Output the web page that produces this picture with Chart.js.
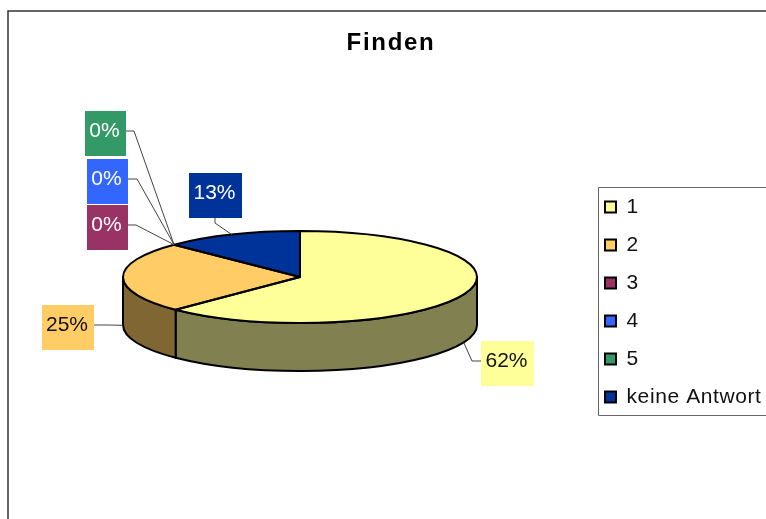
<!DOCTYPE html>
<html>
<head>
<meta charset="utf-8">
<style>html,body{margin:0;padding:0;background:#fff;overflow:hidden}canvas{display:block}</style>
<script src="https://cdn.jsdelivr.net/npm/chart.js@4"></script>
</head>
<body>
<canvas id="c" width="766" height="519"></canvas>
<script>
const titleText = 'Finden';
const categories = ['1', '2', '3', '4', '5', 'keine Antwort'];
const values = [62.4, 25, 0, 0, 0, 12.6];
const colors = ['#FFFF99', '#FFCC66', '#993366', '#3366FF', '#339966', '#003399'];
const sideColors = ['#808050', '#806633', '#4D1A33', '#1A3380', '#1A4D33', '#001A4D'];
const labelTextColors = ['#111', '#111', '#fff', '#fff', '#fff', '#fff'];
const fontFamily = "'Liberation Sans', Arial, sans-serif";

// label box layout: x, y, w, h, then elbow points of the leader from the box to the slice
const labelBoxes = [
  {x: 481, y: 341, w: 53, h: 45, from: [481, 361], elbow: [472, 361]},
  {x: 42, y: 305, w: 52, h: 45, from: [94, 325], elbow: [108, 325]},
  {x: 87, y: 205, w: 41, h: 45, from: [128, 225], elbow: [136, 225]},
  {x: 87, y: 159, w: 41, h: 45, from: [128, 179], elbow: [137, 179]},
  {x: 85, y: 111, w: 41, h: 45, from: [126, 131], elbow: [134, 131]},
  {x: 189, y: 173, w: 53, h: 45, from: [215, 218], elbow: [215, 223]}
];
const squash = 46 / 177;
const depth = 48;

function eachArc(chart, fn) {
  chart.getDatasetMeta(0).data.forEach((arc, i) => fn(arc, i));
}

const pie3d = {
  id: 'pie3d',
  beforeDraw(chart) {
    const ctx = chart.ctx;
    ctx.save();
    ctx.fillStyle = '#fff';
    ctx.fillRect(0, 0, chart.width, chart.height);
    ctx.strokeStyle = '#333';
    ctx.lineWidth = 1.5;
    ctx.beginPath();
    ctx.moveTo(8, 519);
    ctx.lineTo(8, 11);
    ctx.lineTo(766, 11);
    ctx.stroke();
    ctx.strokeStyle = '#666';
    ctx.lineWidth = 1;
    ctx.beginPath();
    ctx.moveTo(766, 187.5);
    ctx.lineTo(598.5, 187.5);
    ctx.lineTo(598.5, 415.5);
    ctx.lineTo(766, 415.5);
    ctx.stroke();
    ctx.restore();
  },
  afterLayout(chart) {
    const t = chart.titleBlock;
    t.left = 8; t.right = 774; t.top = 28.6; t.bottom = 57.4;
    if (!t._wrapped) {
      const d = t.draw.bind(t);
      t.draw = () => { chart.ctx.letterSpacing = '1.7px'; d(); chart.ctx.letterSpacing = '0px'; };
      t._wrapped = true;
    }
    const l = chart.legend;
    l.left = 588; l.right = 766; l.top = 179.5; l.bottom = 519;
    if (!l._wrapped) {
      const d = l.draw.bind(l);
      l.draw = () => { chart.ctx.letterSpacing = '0.6px'; d(); chart.ctx.letterSpacing = '0px'; };
      l._wrapped = true;
    }
  },
  beforeDatasetsDraw(chart) {
    const ctx = chart.ctx;
    const TAU = Math.PI * 2;
    ctx.save();
    ctx.strokeStyle = '#000';
    ctx.lineWidth = 2;
    ctx.lineJoin = 'round';
    eachArc(chart, (arc, i) => {
      let a = arc.startAngle, b = arc.endAngle;
      if (b - a <= 0) return;
      if (a < 0 && b <= 0) { a += TAU; b += TAU; }
      const a0 = Math.max(a, 0), a1 = Math.min(b, Math.PI);
      if (a1 <= a0) return;
      const rx = arc.outerRadius, ry = rx * squash;
      ctx.beginPath();
      ctx.ellipse(arc.x, arc.y, rx, ry, 0, a0, a1);
      ctx.ellipse(arc.x, arc.y + depth, rx, ry, 0, a1, a0, true);
      ctx.closePath();
      ctx.fillStyle = sideColors[i];
      ctx.fill();
      ctx.stroke();
    });
    ctx.restore();
    // the slices themselves are drawn by Chart.js inside this squashed space
    const a = chart.getDatasetMeta(0).data[0];
    ctx.save();
    ctx.translate(a.x, a.y);
    ctx.scale(1, squash);
    ctx.translate(-a.x, -a.y);
  },
  afterDatasetsDraw(chart) {
    const ctx = chart.ctx;
    ctx.restore();
    ctx.save();
    ctx.strokeStyle = '#000';
    ctx.lineWidth = 2;
    ctx.lineJoin = 'round';
    eachArc(chart, (arc) => {
      if (arc.endAngle - arc.startAngle <= 0) return;
      const rx = arc.outerRadius, ry = rx * squash;
      ctx.beginPath();
      ctx.moveTo(arc.x, arc.y);
      ctx.ellipse(arc.x, arc.y, rx, ry, 0, arc.startAngle, arc.endAngle);
      ctx.closePath();
      ctx.stroke();
    });
    ctx.restore();

    // data labels with leader lines
    const total = values.reduce((s, v) => s + v, 0);
    ctx.save();
    eachArc(chart, (arc, i) => {
      const box = labelBoxes[i];
      const mid = (arc.startAngle + arc.endAngle) / 2;
      const rx = arc.outerRadius, ry = rx * squash;
      const sinM = Math.sin(mid);
      const ax = arc.x + rx * Math.cos(mid);
      const ay = arc.y + ry * sinM + (sinM > 0 && arc.endAngle > arc.startAngle ? depth : 0);
      ctx.strokeStyle = '#444';
      ctx.lineWidth = 1;
      ctx.beginPath();
      ctx.moveTo(box.from[0], box.from[1]);
      ctx.lineTo(box.elbow[0], box.elbow[1]);
      ctx.lineTo(ax, ay);
      ctx.stroke();
      ctx.fillStyle = colors[i];
      ctx.fillRect(box.x, box.y, box.w, box.h);
      ctx.fillStyle = labelTextColors[i];
      ctx.font = '21px ' + fontFamily;
      ctx.textAlign = 'center';
      ctx.textBaseline = 'middle';
      ctx.fillText(Math.round(values[i] / total * 100) + '%', box.x + box.w / 2 - 1, box.y + box.h / 2 - 2.5);
    });
    ctx.restore();
  }
};

new Chart(document.getElementById('c'), {
  type: 'pie',
  data: {
    labels: categories,
    datasets: [{data: values, backgroundColor: colors, borderWidth: 0}]
  },
  plugins: [pie3d],
  options: {
    responsive: false,
    animation: false,
    radius: 177,
    layout: {padding: {left: 0, top: 6.2, right: 166, bottom: 0}},
    plugins: {
      tooltip: {enabled: false},
      title: {
        display: true,
        text: titleText,
        color: '#000',
        padding: 0,
        font: {family: fontFamily, size: 24, weight: 'bold', lineHeight: 1.2}
      },
      legend: {
        display: true,
        position: 'chartArea',
        align: 'start',
        labels: {
          boxWidth: 11,
          boxHeight: 11,
          padding: 17,
          color: '#111',
          font: {family: fontFamily, size: 21},
          generateLabels(chart) {
            return Chart.overrides.doughnut.plugins.legend.labels.generateLabels(chart).map(it => {
              it.strokeStyle = '#000';
              it.lineWidth = 2;
              return it;
            });
          }
        }
      }
    }
  }
});
</script>
</body>
</html>
